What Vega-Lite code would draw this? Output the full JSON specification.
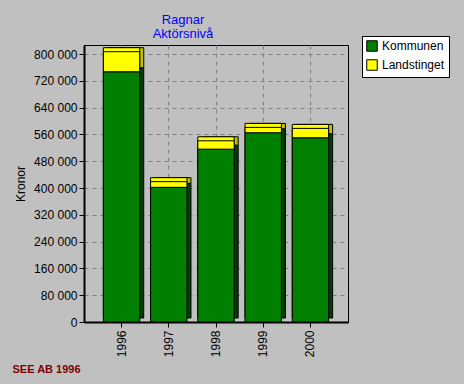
{
  "$schema": "https://vega.github.io/schema/vega-lite/v6.json",
  "width": 264,
  "height": 277,
  "autosize": {"type": "none"},
  "padding": {"left": 84, "top": 45, "right": 116, "bottom": 62},
  "background": "#C0C0C0",
  "config": {
    "locale": {"number": {"decimal": ",", "thousands": " ", "grouping": [3], "currency": ["", " kr"]}},
    "view": {"stroke": "#000000", "strokeWidth": 1},
    "font": "Liberation Sans"
  },
  "title": {
    "text": ["Ragnar", "Aktörsnivå"],
    "color": "#0000FF",
    "fontSize": 13,
    "fontWeight": "normal",
    "font": "Liberation Sans",
    "anchor": "middle",
    "dx": -33,
    "dy": 13,
    "offset": 8,
    "lineHeight": 14
  },
  "data": {
    "values": [
      {"year": "1996", "serie": "Kommunen", "value": 747000},
      {"year": "1996", "serie": "Landstinget", "value": 60000},
      {"year": "1997", "serie": "Kommunen", "value": 402000},
      {"year": "1997", "serie": "Landstinget", "value": 17000},
      {"year": "1998", "serie": "Kommunen", "value": 516000},
      {"year": "1998", "serie": "Landstinget", "value": 25000},
      {"year": "1999", "serie": "Kommunen", "value": 565000},
      {"year": "1999", "serie": "Landstinget", "value": 16000},
      {"year": "2000", "serie": "Kommunen", "value": 550000},
      {"year": "2000", "serie": "Landstinget", "value": 28000}
    ]
  },
  "encoding": {
    "x": {
      "field": "year",
      "type": "nominal",
      "scale": {"paddingInner": 0.23, "paddingOuter": 0.41},
      "axis": {
        "title": "SEE AB 1996",
        "titleColor": "#800000",
        "titleFontWeight": "bold",
        "titleFontSize": 11,
        "titleFont": "Liberation Sans",
        "titleAnchor": "start",
        "titleAlign": "left",
        "titleX": -72,
        "titleY": 50,
        "titleBaseline": "alphabetic",
        "labelAngle": 270,
        "labelFontSize": 12,
        "labelColor": "#000000",
        "labelPadding": 3,
        "tickColor": "#000000",
        "tickSize": 5,
        "domainColor": "#000000",
        "domainWidth": 2,
        "grid": true,
        "gridColor": "#808080",
        "gridDash": [4, 4],
        "gridWidth": 1
      }
    },
    "y": {
      "field": "value",
      "type": "quantitative",
      "stack": "zero",
      "scale": {"domain": [0, 827000], "nice": false},
      "axis": {
        "title": "Kronor",
        "titleColor": "#000000",
        "titleFontWeight": "normal",
        "titleFontSize": 12,
        "titleX": -64,
        "titleBaseline": "middle",
        "values": [0, 80000, 160000, 240000, 320000, 400000, 480000, 560000, 640000, 720000, 800000],
        "format": ",d",
        "labelFontSize": 12,
        "labelColor": "#000000",
        "labelPadding": 2,
        "tickColor": "#000000",
        "tickSize": 5,
        "domainColor": "#000000",
        "domainWidth": 2,
        "grid": true,
        "gridColor": "#808080",
        "gridDash": [4, 4],
        "gridWidth": 1
      }
    },
    "order": {"field": "serie", "sort": "ascending"}
  },
  "layer": [
    {
      "mark": {"type": "bar", "xOffset": 4, "yOffset": -4, "stroke": "#000000", "strokeWidth": 1},
      "encoding": {
        "fill": {
          "condition": {"test": "datum.serie === 'Kommunen'", "value": "#004000"},
          "value": "#C0C000"
        }
      }
    },
    {
      "mark": {"type": "bar", "xOffset": 0, "yOffset": -4, "stroke": "#000000", "strokeWidth": 1},
      "encoding": {
        "fill": {
          "condition": {"test": "datum.serie === 'Kommunen'", "value": "#008000"},
          "value": "#FFFF00"
        }
      }
    },
    {
      "mark": {"type": "bar", "stroke": "#000000", "strokeWidth": 1},
      "encoding": {
        "color": {
          "field": "serie",
          "type": "nominal",
          "scale": {"domain": ["Kommunen", "Landstinget"], "range": ["#008000", "#FFFF00"]},
          "legend": {
            "title": null,
            "orient": "none",
            "legendX": 278,
            "legendY": -9,
            "fillColor": "#FFFFFF",
            "strokeColor": "#000000",
            "padding": 4,
            "symbolType": "square",
            "symbolSize": 110,
            "symbolStrokeColor": "#000000",
            "symbolStrokeWidth": 1,
            "symbolOpacity": 1,
            "labelFontSize": 12,
            "labelColor": "#000000",
            "labelFont": "Liberation Sans",
            "rowPadding": 3
          }
        }
      }
    }
  ]
}
